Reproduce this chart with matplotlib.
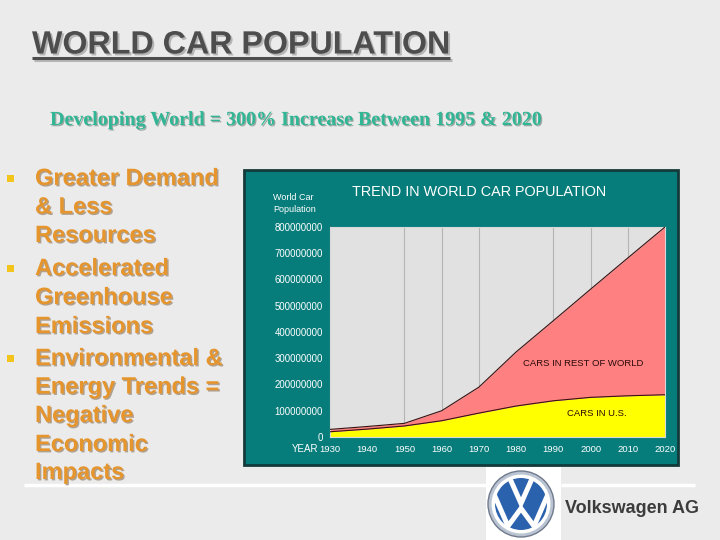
import matplotlib
matplotlib.use("Agg")
import matplotlib.pyplot as plt
from matplotlib import font_manager
import matplotlib.patheffects as pe
from matplotlib.patches import Rectangle, Circle
import numpy as np

# ---------------- data ----------------
years = [1930, 1940, 1950, 1960, 1970, 1980, 1990, 2000, 2010, 2020]
cars_world_total = [29e6, 40e6, 52e6, 100e6, 190e6, 324e6, 443e6, 563e6, 682e6, 800e6]
cars_us = [20e6, 30e6, 42e6, 62e6, 91e6, 118e6, 138e6, 151e6, 157e6, 161e6]
y_ticks = [0, 100e6, 200e6, 300e6, 400e6, 500e6, 600e6, 700e6, 800e6]
y_tick_labels = ["0", "100000000", "200000000", "300000000", "400000000",
                 "500000000", "600000000", "700000000", "800000000"]
x_ticks = [1930, 1940, 1950, 1960, 1970, 1980, 1990, 2000, 2010, 2020]
grid_years = [1950, 1960, 1970, 1990, 2000, 2010]

slide_title = "WORLD CAR POPULATION"
subtitle = "Developing World = 300% Increase Between 1995 & 2020"
bullets = [["Greater Demand", "& Less", "Resources"],
           ["Accelerated", "Greenhouse", "Emissions"],
           ["Environmental &", "Energy Trends =", "Negative", "Economic", "Impacts"]]
chart_title = "TREND IN WORLD CAR POPULATION"

avail = {f.name for f in font_manager.fontManager.ttflist}
SANS = "Liberation Sans" if "Liberation Sans" in avail else "DejaVu Sans"
SERIF = "Liberation Serif" if "Liberation Serif" in avail else "DejaVu Serif"


def shadow(offset, color):
    return [pe.withSimplePatchShadow(offset=offset, shadow_rgbFace=color, alpha=1.0)]


W, H = 720, 540
fig = plt.figure(figsize=(7.2, 5.4), dpi=100)
fig.patch.set_facecolor("#ebebeb")

bg = fig.add_axes([0, 0, 1, 1])
bg.set_xlim(0, W)
bg.set_ylim(H, 0)
bg.axis("off")
bg.set_facecolor("#ebebeb")

# Title with shadow + underline
bg.text(32, 53.5, slide_title, fontsize=23.2, family=SANS, weight="bold",
        color="#4d4d4d", va="baseline", ha="left",
        path_effects=shadow((1.4, -1.4), "#b5b5b5"))
bg.plot([34, 452], [59.5, 59.5], color="#b5b5b5", lw=2.2, solid_capstyle="butt")
bg.plot([32, 450], [58, 58], color="#4d4d4d", lw=2.2, solid_capstyle="butt")

# Subtitle
bg.text(50, 125, subtitle, fontsize=14.4, family=SERIF, weight="bold",
        color="#30b694", va="baseline", ha="left",
        path_effects=shadow((0.9, -0.9), "#9aa8a2"))

# Bullets
baselines = [[185, 213.5, 242], [275, 304, 333], [365, 393.5, 422, 451, 479]]
for lines, bls in zip(bullets, baselines):
    bg.add_patch(Rectangle((7, bls[0] - 10), 7, 7, facecolor="#f2c41c",
                           edgecolor="none"))
    for ln, b in zip(lines, bls):
        bg.text(35, b, ln, fontsize=17, family=SANS, weight="bold",
                color="#e5952c", va="baseline", ha="left",
                path_effects=shadow((1.0, -1.0), "#b0a090"))

# Bottom white lines, logo box
bg.plot([24, 486], [485, 485], color="white", lw=2.5, solid_capstyle="butt")
bg.plot([561, 695], [485, 485], color="white", lw=2.5, solid_capstyle="butt")
bg.add_patch(Rectangle((486, 467), 75, 73, facecolor="white", edgecolor="none"))

# VW logo (approximation)
cx, cy, R = 521, 504, 33
bg.add_patch(Circle((cx, cy), R, facecolor="#b9c3d2", edgecolor="#6f7a8c", lw=1))
inner = Circle((cx, cy), R * 0.84, facecolor="#2a62ad", edgecolor="white", lw=2.5)
bg.add_patch(inner)
r = R * 0.84
v_pts = np.array([[-0.40, -0.92], [0.0, -0.02], [0.40, -0.92]])
w_pts = np.array([[-0.95, -0.30], [-0.47, 0.80], [0.0, 0.16], [0.47, 0.80],
                  [0.95, -0.30]])
for pts in (v_pts, w_pts):
    l, = bg.plot(cx + pts[:, 0] * r, cy + pts[:, 1] * r, color="white", lw=3.6,
                 solid_joinstyle="miter")
    l.set_clip_path(inner)

bg.text(565, 513, "Volkswagen AG", fontsize=13, family=SANS, weight="bold",
        color="#3c3c3c", va="baseline", ha="left")

# Chart frame
bg.add_patch(Rectangle((244, 170), 434, 295, facecolor="#077d7b",
                       edgecolor="#143a3a", lw=2))
bg.text(479.5, 196, chart_title, fontsize=10.4, family=SANS, color="white",
        va="baseline", ha="center")
bg.text(273, 200, "World Car", fontsize=6.5, family=SANS, color="white",
        va="baseline", ha="left")
bg.text(273, 212, "Population", fontsize=6.5, family=SANS, color="white",
        va="baseline", ha="left")
bg.text(318, 452, "YEAR", fontsize=7, family=SANS, color="white",
        va="baseline", ha="right")

# ---------------- chart axes ----------------
L, R_, T, B = 330, 665, 227, 437
ax = fig.add_axes([L / W, 1 - B / H, (R_ - L) / W, (B - T) / H])
ax.set_facecolor("#e1e1e1")
ax.set_xlim(1930, 2020)
ax.set_ylim(0, 800e6)
for yr in grid_years:
    ax.axvline(yr, color="#b4b4b4", lw=0.8, zorder=1)
ax.fill_between(years, 0, cars_us, color="#ffff00", zorder=2, lw=0)
ax.fill_between(years, cars_us, cars_world_total, color="#ff8080", zorder=2, lw=0)
ax.plot(years, cars_world_total, color="#3a1010", lw=0.8, zorder=3)
ax.plot(years, cars_us, color="#3a1010", lw=0.8, zorder=3)
for s in ax.spines.values():
    s.set_color("#d8d8d8")
    s.set_linewidth(0.8)
ax.set_yticks(y_ticks)
ax.set_yticklabels(y_tick_labels, family=SANS, fontsize=6.9, color="white")
ax.set_xticks(x_ticks)
ax.set_xticklabels([str(x) for x in x_ticks], family=SANS, fontsize=6.8,
                   color="white")
ax.tick_params(length=0, pad=5)
ax.tick_params(axis="x", pad=6)
ax.text(1998, 280e6, "CARS IN REST OF WORLD", fontsize=6.8, family=SANS,
        color="#2a0a0a", ha="center", va="center", zorder=4)
ax.text(2001.8, 88e6, "CARS IN U.S.", fontsize=6.8, family=SANS,
        color="#2a0a0a", ha="center", va="center", zorder=4)

fig.savefig("out.png", dpi=100, facecolor=fig.get_facecolor())
